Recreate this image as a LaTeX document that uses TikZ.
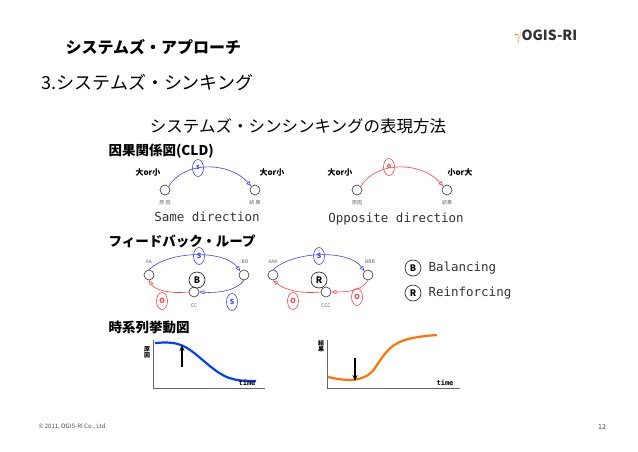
\documentclass[tikz,border=0pt]{standalone}
\usepackage{fontspec}
\setmainfont{Noto Sans CJK JP}
\newfontfamily\cjk{Noto Sans CJK JP}
\newfontfamily\mono{DejaVu Sans Mono}
\usetikzlibrary{arrows.meta,shapes.geometric}
\begin{document}
\begin{tikzpicture}[x=1pt,y=-1pt,
  nd/.style={circle,draw=black!70,fill=white,minimum size=10pt,inner sep=0pt,line width=0.7pt},
  big/.style={circle,draw=black!80,line width=0.7pt,minimum size=16pt,inner sep=0pt,font=\cjk\bfseries\fontsize{9}{9}\selectfont},
  pol/.style={ellipse,draw,line width=0.6pt,minimum width=11pt,minimum height=17pt,inner sep=0pt,font=\cjk\bfseries\fontsize{7}{7}\selectfont},
  bl/.style={draw=blue!75,line width=0.6pt,-{Triangle[open,length=5pt,width=4pt]}},
  rd/.style={draw=red!75,line width=0.6pt,-{Triangle[open,length=5pt,width=4pt]}},
  sm/.style={font=\cjk\fontsize{5}{5}\selectfont,text=black!60},
  lab/.style={font=\cjk\bfseries\fontsize{8}{8}\selectfont},
  mo/.style={font=\mono\fontsize{12.5}{12.5}\selectfont,text=black!80},
  hd/.style={font=\cjk\bfseries\fontsize{13.5}{13.5}\selectfont,anchor=west}]
\useasboundingbox (0,0) rectangle (638,451);
\node[anchor=west,font=\cjk\bfseries\fontsize{16}{16}\selectfont] (t1) at (62,47) {システムズ・アプローチ};
\node[anchor=west,font=\cjk\fontsize{18}{18}\selectfont] (t2) at (38,82) {3.システムズ・シンキング};
\node[font=\cjk\fontsize{16.5}{16.5}\selectfont] (t3) at (298,126) {システムズ・シンシンキングの表現方法};
\node[anchor=west,font=\bfseries\fontsize{14}{14}\selectfont,text=black!80] (logo) at (510,37) {{\color{orange!80!red}$\gamma$}OGIS-RI};
% CLD
\node[hd] (h1) at (105,151) {因果関係図(CLD)};
\node[nd] (a1) at (165,190) {};
\node[nd] (b1) at (255,190) {};
\node[lab] at (148,172) {大or小};
\node[lab] at (272,172) {大or小};
\node[sm] at (165,203) {原 因};
\node[sm] at (255,203) {結 果};
\draw[bl] (a1.north east) .. controls (185,160) and (230,162) .. (b1.north west);
\node[pol,draw=blue!75,text=blue!75] at (198,168) {s};
\node[mo] at (207,217) {Same direction};
\node[nd] (a2) at (357,190) {};
\node[nd] (b2) at (447,190) {};
\node[lab] at (340,172) {大or小};
\node[lab] at (460,172) {小or大};
\node[sm] at (357,203) {原因};
\node[sm] at (447,203) {結果};
\draw[rd] (a2.north east) .. controls (377,160) and (422,162) .. (b2.north west);
\node[pol,draw=red!75,text=red!75] at (389,167) {o};
\node[mo] at (396,219) {Opposite direction};
% feedback
\node[hd] (h2) at (105,241) {フィードバック・ループ};
\node[nd] (aa) at (149,275) {};
\node[nd] (bb) at (244,275) {};
\node[nd] (cc) at (194,292) {};
\node[big] at (197,280) {B};
\node[sm] at (149,262) {AA};
\node[sm] at (245,262) {BB};
\node[sm] at (194,306) {CC};
\draw[bl] (aa.north) .. controls (170,250) and (225,250) .. (bb.north west);
\draw[rd] (cc.west) .. controls (170,294) and (155,290) .. (aa.south);
\draw[bl] (bb.south) .. controls (235,292) and (215,293) .. (cc.east);
\node[pol,draw=blue!75,text=blue!75] at (199,256) {S};
\node[pol,draw=red!75,text=red!75] at (162,301) {O};
\node[pol,draw=blue!75,text=blue!75] at (232,302) {S};
\node[nd] (aaa) at (273,275) {};
\node[nd] (bbb) at (368,275) {};
\node[nd] (ccc) at (326,292) {};
\node[big] at (319,280) {R};
\node[sm] at (273,262) {AAA};
\node[sm] at (370,262) {BBB};
\node[sm] at (326,306) {CCC};
\draw[bl] (aaa.north) .. controls (295,250) and (350,250) .. (bbb.north west);
\draw[rd] (bbb.south) .. controls (362,290) and (350,292) .. (ccc.east);
\draw[rd] (ccc.west) .. controls (300,294) and (285,290) .. (aaa.south);
\node[pol,draw=blue!75,text=blue!75] at (319,256) {S};
\node[pol,draw=red!75,text=red!75] at (357,297) {O};
\node[pol,draw=red!75,text=red!75] at (293,301) {O};
\node[big] (lb) at (413,268) {B};
\node[anchor=west,mo] at (425,268) {Balancing};
\node[big] (lr) at (413,293) {R};
\node[anchor=west,mo] at (425,293) {Reinforcing};
% time series
\node[hd] (h3) at (105,327) {時系列挙動図};
\draw[black!60,line width=0.6pt] (153,340) -- (153,388) -- (265,388);
\draw[blue!75!cyan,line width=2.2pt] (155,343) .. controls (180,341) and (185,345) .. (205,362) .. controls (225,379) and (232,381) .. (256,381);
\draw[-{Stealth[length=6pt,width=5pt]},line width=1.2pt] (182,367) -- (182,345);
\node[font=\cjk\bfseries\fontsize{6}{6}\selectfont,align=center] at (147,352) {原\\因};
\node[font=\mono\bfseries\fontsize{7}{7}\selectfont] at (247,383) {time};
\draw[black!60,line width=0.6pt] (327,340) -- (327,388) -- (460,388);
\draw[orange!90!red,line width=2.2pt] (328,377) .. controls (345,381) and (365,383) .. (375,368) .. controls (390,345) and (395,338) .. (437,335);
\draw[-{Stealth[length=6pt,width=5pt]},line width=1.2pt] (355,358) -- (355,381);
\node[font=\cjk\bfseries\fontsize{6}{6}\selectfont,align=center] at (321,346) {結\\果};
\node[font=\mono\bfseries\fontsize{7}{7}\selectfont] at (445,383) {time};
% footer
\node[anchor=west,font=\fontsize{6}{6}\selectfont,text=black!70] (ft) at (35,427) {© 2011, OGIS-RI Co., Ltd.};
\node[font=\fontsize{7}{7}\selectfont,text=black!70] (pg) at (602,427) {12};
\end{tikzpicture}
\end{document}
